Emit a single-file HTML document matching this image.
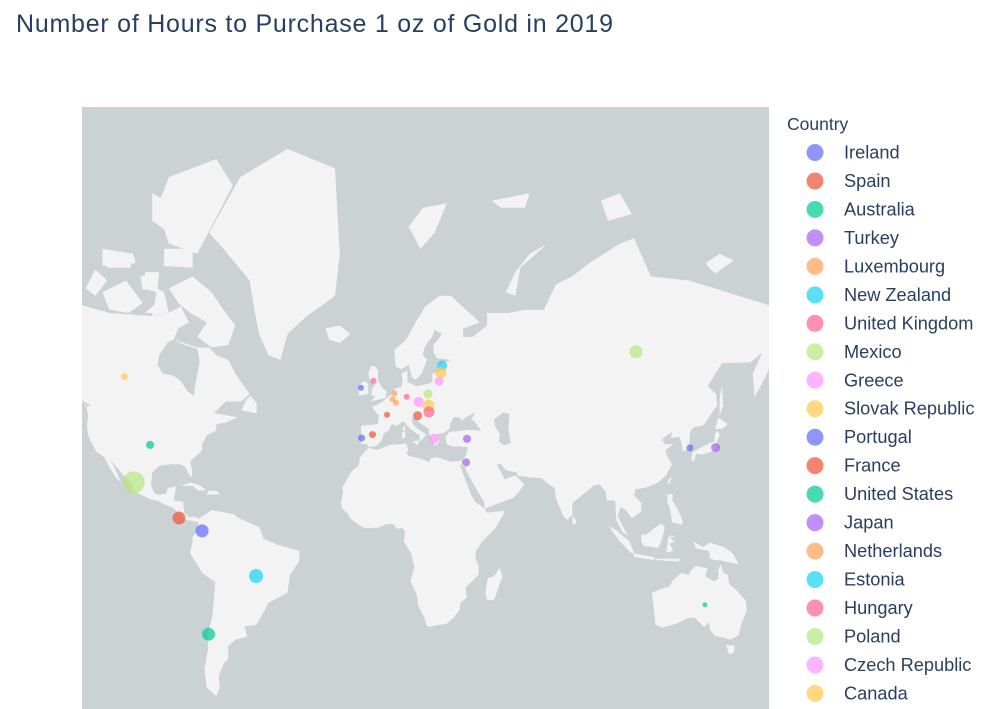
<!DOCTYPE html>
<html><head><meta charset="utf-8"><style>
html,body{margin:0;padding:0;background:#fff;overflow:hidden;width:1007px;height:709px;}
svg{display:block;font-family:"Liberation Sans",Arial,sans-serif;overflow:hidden;}
</style></head><body>
<svg id="chart" width="1007" height="709" viewBox="0 0 1007 709">
<defs><clipPath id="mapclip"><rect x="82" y="107" width="687" height="602"/></clipPath></defs>
<text x="16" y="32" font-size="25" fill="#2a3f5f" textLength="597">Number of Hours to Purchase 1 oz of Gold in 2019</text>
<g clip-path="url(#mapclip)">
<rect x="82" y="107" width="687" height="602" fill="#cad2d4"/>
<g id="land"></g>
<g id="points"></g>
</g>
<g id="legend">
<text x="787" y="130" font-size="17.5" fill="#2a3f5f">Country</text>
</g>
</svg>
<script>
const countries = ["Ireland","Spain","Australia","Turkey","Luxembourg","New Zealand","United Kingdom","Mexico","Greece","Slovak Republic","Portugal","France","United States","Japan","Netherlands","Estonia","Hungary","Poland","Czech Republic","Canada","Korea","Costa Rica","Chile","Israel","Belgium","Austria","Germany","Italy","Latvia","Lithuania","Colombia","Slovenia"];
const lons = [-9.1,-4.2,135.8,35.6,5.0,174.8,-3.8,106.8,21.7,19.4,-8.8,1.9,-97.9,140.3,4.3,25.1,19.6,19.2,15.2,-108.7,129.5,-85.7,-73.3,35.2,5.7,-53.3,10.2,-104.8,23.8,24.6,-76.0,14.8];
const lats = [53.6,40.2,-26.7,38.8,52.2,-41.0,55.3,61.7,38.9,48.9,39.1,46.3,36.8,35.9,50.6,58.8,47.1,52.0,49.9,56.3,35.8,8.8,-37.2,30.7,49.7,-15.4,51.3,23.2,55.2,57.2,3.4,46.0];
const hours = [18,24,12,32,18,30,18,84,50,71,24,18,32,40,18,50,60,40,50,24,24,84,84,32,18,97,18,240,40,60,84,40];

const palette = ["#636efa","#EF553B","#00cc96","#ab63fa","#FFA15A","#19d3f3","#FF6692","#B6E880","#FF97FF","#FECB52"];
const NS = "http://www.w3.org/2000/svg";
function px(lon){ return 382.5 + lon*2.374; }
function py(lat){ return 539 - 136*Math.log(Math.tan(Math.PI/4 + lat*Math.PI/360)); }
function rad(h){ return 0.71*Math.sqrt(h); }

const landPolys = {
"north-america":[[-130,70],[-115,68.5],[-96,68],[-90,68.5],[-85,69.5],[-81.5,67],[-86,66],[-88,64],[-78,62.5],[-73,62.5],[-70,61],[-65,60],[-62,57],[-56,52],[-59.5,50],[-66,50],[-71,46.8],[-64.5,46],[-61,45.5],[-66,44],[-70,43.5],[-70,41.5],[-74,40],[-76,37],[-76,35],[-81,31],[-80,27],[-80.5,25],[-82,27],[-83,29],[-85,30],[-89,30],[-94,29.5],[-97,27],[-97.5,22],[-96,19],[-94,18.2],[-91,19],[-90.5,21],[-87,21.5],[-88,16],[-84,15.5],[-83.5,11],[-81.5,9],[-79,9.5],[-77.5,8.5],[-79.5,7.5],[-83,8],[-86,11],[-88,13],[-92,14.5],[-95,16],[-98,16.5],[-105,20],[-105.5,23],[-109,25.8],[-112,29],[-114.8,31.6],[-113,29],[-111,25],[-110,23],[-112,24.8],[-114,27.5],[-115.5,29.5],[-117,32.5],[-120.5,34.5],[-122.5,37.5],[-124,40],[-124.5,43],[-124,46],[-124.7,48.5],[-123,49],[-127,50.5],[-130,54]],
"boothia-peninsula":[[-97,68],[-95,72],[-92,71.5],[-90,68.5]],
"king-william-island":[[-100,68.5],[-96,69.8],[-95.5,68.5]],
"prince-of-wales-island":[[-102,73.5],[-97,73.8],[-96,72],[-101,71.8]],
"melville-island":[[-117,76],[-106,75.8],[-106,74.5],[-116,74.5]],
"baffin-island":[[-90,72],[-80,73.5],[-72,71.5],[-67,69],[-62,66.5],[-65,63],[-72,62.5],[-78,64.5],[-74,67],[-81,68.5],[-86,70]],
"victoria-island":[[-118,71.5],[-108,73],[-101,70],[-107,68.5],[-115,69]],
"banks-island":[[-125,72],[-121,74.3],[-116,73],[-121,71]],
"ellesmere-island":[[-90,77],[-78,76],[-63,81.5],[-70,83],[-90,82],[-95,80]],
"devon-island":[[-92,76.5],[-80,76.5],[-80,74.5],[-92,74.7]],
"somerset-island":[[-100,74],[-94,74],[-95,71.5],[-101,72]],
"parry-islands":[[-118,76.5],[-105,76],[-104,75],[-118,74.7]],
"axel-heiberg":[[-97,81],[-86,80],[-90,78],[-97,79]],
"greenland":[[-73,78],[-60,82],[-40,83.5],[-20,82.5],[-18,76],[-20,71],[-24,70],[-32,68],[-40,65],[-43,60],[-48,61],[-52,65],[-54,69],[-56,73],[-67,76.5]],
"iceland":[[-24,66],[-18,66.5],[-13.5,65],[-18,63.4],[-22.5,64]],
"newfoundland":[[-59.4,47.6],[-53,46.7],[-53,49.5],[-55.5,51.6],[-57.4,50.5]],
"vancouver-island":[[-128.3,50.8],[-123.3,48.3],[-125,48.9]],
"cuba":[[-85,21.8],[-81,23.2],[-77,22],[-74.2,20.2],[-77.5,19.9],[-80,21.8]],
"hispaniola":[[-74.4,18.4],[-68.4,18.6],[-70,19.9],[-73,19.9]],
"south-america":[[-77.5,8.5],[-72,12],[-63,10.5],[-60,8.5],[-52,5],[-50,0],[-44,-2.5],[-35,-5],[-35,-9],[-39,-15],[-40,-22],[-48,-26],[-53,-34],[-58,-34.5],[-57,-38],[-62,-39],[-65,-41],[-65,-45],[-67,-46.5],[-69,-50],[-68.5,-53],[-70,-55],[-74,-53],[-75,-48],[-73.5,-42],[-73.5,-37],[-71.5,-30],[-70.5,-18],[-76,-14],[-81,-6],[-80,-1],[-80,1],[-78,3],[-77.5,7],[-79.5,7.5]],
"eurasia":[[-9,37],[-9,43],[-2,43.5],[-1.5,46],[-4.5,48.5],[-1,49.5],[2,51],[4,52],[5,53.4],[8,53.8],[8.5,55.5],[8,57],[10.5,57.7],[10.5,55],[12.5,54.5],[14,54],[19,54.5],[21,55],[21,57],[24,57.5],[23.5,59],[29,60],[23,60.3],[21.5,61.5],[21.5,63],[25,65],[22,65.8],[21,64.5],[19,63.5],[17.5,62.3],[17,61],[18.8,60],[16.5,57],[14,55.5],[12.5,56],[11,59],[8,58],[5.5,58.5],[5,62],[10,64],[14,67],[18,69.5],[24,71],[29,71],[32,70],[41,67],[34,66],[34,64.5],[38,64.5],[44,66.5],[44,68.5],[53,68.5],[60,69],[68,69],[73,72.5],[80,73.5],[87,75],[100,77],[106,77.5],[113,73.5],[129,73],[140,72],[150,71],[160,70],[164,69.5],[164,59.5],[162,57],[156.7,51],[156,57],[160,61.5],[155,59.5],[143,59.3],[137,54],[140.5,52],[141,49],[138,46],[135,43],[131,42.5],[129.5,41],[129.5,39.5],[129,35.3],[126.5,34.5],[126,37.5],[125,39.5],[121.5,39],[122,41],[119,39.5],[117.8,38.5],[119,37],[122.5,37],[119,35],[120.5,32],[122,30],[119.5,26],[116,23],[110.5,21],[106.5,20.5],[106,18],[109,15],[109,11.5],[105,8.7],[102.5,12],[100.5,13.5],[99,10],[100.5,6.5],[103.5,1.3],[101,3],[98.5,8],[98,16],[94.5,16],[94,19.5],[91.5,22.5],[89,22],[86.5,20],[80,15],[80,10],[77.5,8],[76,10],[73,17],[72.5,21],[70,22.5],[67,24.8],[62,25.2],[57,25.7],[56.5,27],[52,27.8],[50,30],[48,30],[50,27],[51.5,24.3],[56,26],[58.5,23.5],[59.8,22.5],[57,19],[55,17],[52,16],[43,12.7],[42.7,15.5],[39,21.5],[35,28],[34.8,29.5],[33,31],[35,32.8],[36,36],[32,36.3],[30,36.2],[27,37],[26.5,39.5],[28,41],[29,41.2],[31,41.2],[36,41.7],[41.5,41.5],[39,44],[37.5,45],[39,47],[35,45.5],[33.5,44.5],[32.5,45.5],[30,45.5],[28.7,44],[28,41.8],[26,40.8],[23,40.5],[24,38],[22,36.5],[21,38.5],[19.5,40.5],[19.5,42],[15.5,44],[13.7,45.6],[12.3,45.3],[12.5,44],[14,42.5],[16,41.5],[18.5,40.2],[16.5,38.5],[15.7,38],[15.6,40],[12,41.8],[10.5,43],[8.8,44.4],[6,43],[4,43.5],[3,42.5],[3.2,41.9],[0.5,40.5],[0,38.8],[-2,36.7],[-5.5,36],[-7,37.2]],
"great-britain":[[-5,50],[1.5,51],[1.7,52.7],[0,53.5],[-1.5,55],[-2,56],[-1.8,57.6],[-3,58.6],[-5,58.6],[-6,57],[-5,55],[-3,54.5],[-4.5,53.3],[-4.7,51.7],[-3,51.4]],
"ireland-island":[[-10,51.6],[-6,52],[-6,54.5],[-7.5,55.3],[-10,54.2]],
"sicily":[[12.5,38],[15.6,38.3],[15,36.7]],
"sardinia":[[8.3,39],[9.7,39.2],[9.5,41.2],[8.2,40.9]],
"corsica":[[8.6,41.4],[9.5,41.4],[9.4,43],[8.6,42.5]],
"svalbard":[[11,78.5],[17,80],[27,80.3],[22,78],[16,76.5]],
"novaya-zemlya":[[52,71.5],[56,74],[62,76],[69,76.9],[58,74.5],[56,71]],
"franz-josef-land":[[46,80.5],[62,81],[60,80],[50,80]],
"severnaya-zemlya":[[95,79],[105,79.5],[100,81],[92,80.5]],
"new-siberian-islands":[[136,75],[142,76],[148,75.3],[140,73.8]],
"honshu":[[130,31],[131.5,31.5],[132,33.8],[135,33.5],[140,35],[141,38],[142,40],[141.3,41.4],[140,40.5],[139.8,38],[137,37],[133,35.5],[130.5,34]],
"hokkaido":[[140,42],[141.5,45.5],[145.5,43.5],[143,42]],
"sakhalin":[[142,46],[143.5,49],[143,54.2],[142,51]],
"taiwan":[[120.5,22.5],[121.9,25],[121,25],[120.1,23]],
"sri-lanka":[[80,9.8],[81.8,7.5],[81,6],[80,6.5]],
"africa":[[-17.5,14.7],[-16.5,19.5],[-17,21],[-13,27.5],[-10,29.5],[-9.5,32.5],[-6,35.8],[-2,35.1],[3,36.8],[10,37.3],[11,35],[10,34],[11,33],[15,32.3],[20,30.8],[20,32],[23,32.6],[29,30.9],[32,31.2],[34.5,31.5],[34.8,29],[32.5,30],[35,24],[37.5,18],[39,15.5],[43.2,12.5],[44,11],[51.2,11.8],[51,10.5],[47.5,4.5],[42,-1],[39.5,-5],[39,-8],[40.5,-11],[40.5,-15],[35,-20],[35.5,-24],[32.8,-26],[32.5,-28.5],[30,-31.5],[27,-33.6],[22,-34.2],[19.8,-34.8],[18.3,-34],[18,-32],[15,-27],[14.5,-23],[11.8,-17.5],[13.5,-11.5],[12,-6],[9,-1],[9.5,3],[8.5,4.5],[6,4.3],[4.5,6.3],[1.5,6.2],[-2,4.8],[-7.5,4.4],[-10,6],[-13,8],[-15,11],[-16.8,12.5]],
"madagascar":[[49.3,-12],[50.5,-15.5],[47,-25],[44,-25],[43.3,-22],[44.3,-16.3],[47,-15.5]],
"sumatra":[[95.3,5.5],[98,4],[104,-1],[106,-5.8],[104.5,-5.8],[100,-1],[97,3]],
"java":[[105.5,-6],[114.5,-7.7],[114.5,-8.8],[106,-7.5]],
"borneo":[[109,2],[111,1.8],[115,5],[117.5,6.5],[119,5],[118,1],[117.5,-1],[116,-3.8],[113,-3.2],[110,-3],[109,-1]],
"sulawesi":[[119.5,-5.5],[120.5,1],[125,1.5],[121,0.5],[123,-1],[121,-2],[122.5,-4.8],[121,-5.5]],
"new-guinea":[[131,-1],[135,-3.5],[138,-1.5],[144,-3.5],[147.5,-6],[150,-10.5],[147,-10],[143,-9],[141,-9],[138,-8.3],[137.5,-5],[132,-4]],
"philippines":[[120,18.5],[122.3,18.5],[122,16],[124,13],[126.5,7.5],[126,6],[122,7],[121,13],[120,15]],
"lesser-sunda":[[115,-8.3],[125,-8.2],[125,-9.5],[115,-8.8]],
"australia":[[113.5,-22],[114,-26],[115,-34],[118,-35],[124,-33.5],[129,-31.5],[131.5,-31.5],[135.5,-34.8],[137.5,-33],[138,-35.7],[140,-37.8],[144,-38.4],[146.5,-39],[150,-37.5],[151.2,-33.8],[153.5,-28.5],[153,-25],[149,-21],[146,-18.5],[145.5,-15],[143.5,-14],[142.5,-10.7],[141.5,-13],[141.5,-16.5],[139.5,-17.5],[136,-15.5],[136.8,-12.2],[132,-11.3],[130,-13],[129,-15],[126,-14],[122,-17.5],[121,-19.5],[117,-20.7]],
"tasmania":[[144.7,-40.7],[148.3,-40.9],[148,-43.2],[146,-43.6]]
};
const waterPolys = {
"hudson-bay":[[-94.8,59],[-92.5,57],[-88,56.5],[-85,55.3],[-82.3,52.8],[-79.5,51.5],[-78.8,54.5],[-77,59.5],[-78,62.3],[-82,62.8],[-86,63.5],[-88,64],[-90.5,63.5],[-94,61]],
"caspian-sea":[[47,45],[51,47],[53.5,46.5],[53,42],[54,37.5],[51,36.7],[49,38],[49.5,40.5],[47.5,42.5]]
};
function polyStr(pts){ return pts.map(p=>px(p[0]).toFixed(1)+","+py(p[1]).toFixed(1)).join(" "); }
const landG = document.getElementById('land');
for (const k in landPolys){
  const el = document.createElementNS(NS,'polygon');
  el.setAttribute('points', polyStr(landPolys[k]));
  el.setAttribute('fill','#f3f3f3');
  
  
  landG.appendChild(el);
}
for (const k in waterPolys){
  const el = document.createElementNS(NS,'polygon');
  el.setAttribute('points', polyStr(waterPolys[k]));
  el.setAttribute('fill','#cad2d4');
  
  
  landG.appendChild(el);
}
const ptsG = document.getElementById('points');
countries.forEach((c,i)=>{
  const el = document.createElementNS(NS,'circle');
  el.setAttribute('cx', px(lons[i]).toFixed(1));
  el.setAttribute('cy', py(lats[i]).toFixed(1));
  el.setAttribute('r', rad(hours[i]).toFixed(2));
  el.setAttribute('fill', palette[i%10]);
  el.setAttribute('fill-opacity','0.72');
  
  
  ptsG.appendChild(el);
});
const legG = document.getElementById('legend');
countries.forEach((c,i)=>{
  const y = 152.5 + i*28.47;
  if (y > 720) return;
  const g = document.createElementNS(NS,'g');
  
  
  const m = document.createElementNS(NS,'circle');
  m.setAttribute('cx', 815); m.setAttribute('cy', y); m.setAttribute('r', 8.5);
  m.setAttribute('fill', palette[i%10]); m.setAttribute('fill-opacity','0.72');
  
  
  const t = document.createElementNS(NS,'text');
  t.setAttribute('x', 844); t.setAttribute('y', y+6);
  t.setAttribute('font-size', 18.2); t.setAttribute('fill', '#2a3f5f');
  t.textContent = c;
  
  
  g.appendChild(m); g.appendChild(t); legG.appendChild(g);
});
</script>
</body></html>
